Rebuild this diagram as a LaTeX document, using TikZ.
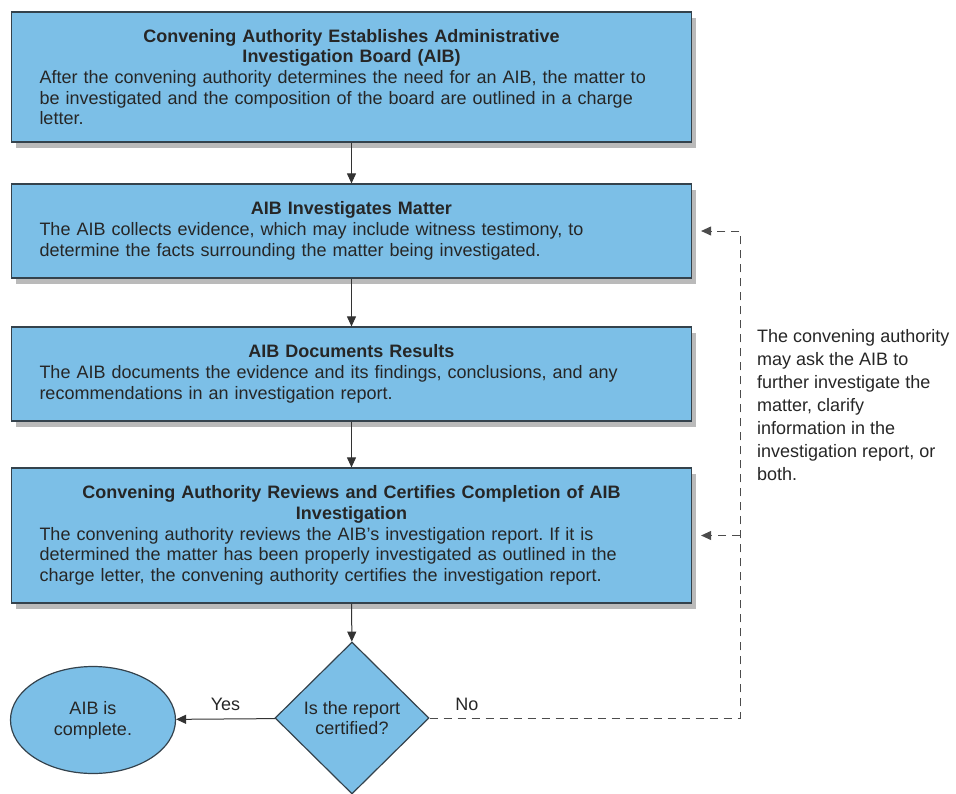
\documentclass[tikz,border=0pt]{standalone}
\usepackage{fontspec}
\setmainfont{Liberation Sans}
\usetikzlibrary{positioning,arrows.meta,shapes.geometric,shadows}
\frenchspacing

\definecolor{stepblue}{RGB}{124,191,231}
\definecolor{edgegray}{RGB}{52,66,76}
\newcommand{\boxtext}[2]{{\centering\bfseries #1\par}#2}

\begin{document}
\begin{tikzpicture}[x=1pt, y=-1pt,
  stepbox/.style={rectangle, draw=edgegray, line width=1.2pt, fill=stepblue,
    minimum width=680pt, text width=624pt, align=left, inner sep=0pt,
    font=\fontsize{18}{20.7}\selectfont, text=black!85,
    drop shadow={shadow xshift=4pt, shadow yshift=-6pt, opacity=0.45, fill=black!60}},
  decide/.style={diamond, draw=edgegray, line width=1.2pt, fill=stepblue,
    minimum width=154pt, minimum height=152pt, inner sep=0pt, align=center,
    font=\fontsize{18}{20.7}\selectfont, text=black!85},
  finish/.style={ellipse, draw=edgegray, line width=1.2pt, fill=stepblue,
    minimum width=165pt, minimum height=107pt, inner sep=0pt, align=center,
    font=\fontsize{18}{20.7}\selectfont, text=black!85},
  flow/.style={line width=1pt, draw=black!80, -{Triangle[length=10pt, width=9pt]}},
  back/.style={flow, draw=black!70, dash pattern=on 8pt off 6pt, shorten >=9pt},
  lbl/.style={font=\fontsize{18}{20.7}\selectfont, text=black!85}
]
  \useasboundingbox (0,0) rectangle (956,793);

  % Steps
  \node[stepbox, minimum height=130pt] (b1) at (351.5,77)
    {\boxtext{Convening Authority Establishes Administrative\\Investigation Board (AIB)}
    {After the convening authority determines the need for an AIB, the matter to\\
     be investigated and the composition of the board are outlined in a charge\\
     letter.}};
  \node[stepbox, minimum height=94pt] (b2) at (351.5,231)
    {\boxtext{AIB Investigates Matter}
    {The AIB collects evidence, which may include witness testimony, to\\
     determine the facts surrounding the matter being investigated.}};
  \node[stepbox, minimum height=94pt] (b3) at (351.5,374)
    {\boxtext{AIB Documents Results}
    {The AIB documents the evidence and its findings, conclusions, and any\\
     recommendations in an investigation report.}};
  \node[stepbox, minimum height=135pt] (b4) at (351.5,535.5)
    {\boxtext{Convening Authority Reviews and Certifies Completion of AIB\\Investigation}
    {The convening authority reviews the AIB's investigation report. If it is\\
     determined the matter has been properly investigated as outlined in the\\
     charge letter, the convening authority certifies the investigation report.}};

  % Decision and end
  \node[decide] (dia) at (352,718) {Is the report\\certified?};
  \node[finish] (done) at (93,720) {AIB is\\complete.};

  \draw[flow] (b1) -- (b2);
  \draw[flow] (b2) -- (b3);
  \draw[flow] (b3) -- (b4);
  \draw[flow] (b4) -- (dia);
  \draw[flow] (dia) -- node[lbl, above=4pt] {Yes} (done);

  % Return loop
  \coordinate (loop) at (740,718);
  \draw[back] (dia.east) -- node[lbl, pos=0.12, above=4pt] {No} (loop) |- (b2.east);
  \draw[back] (loop |- b4.east) -- (b4.east);

  \node[lbl, anchor=north west, inner sep=0pt, align=left,
    font=\fontsize{18}{23}\selectfont] (note) at (757,329)
    {The convening authority\\may ask the AIB to\\further investigate the\\matter, clarify\\information in the\\investigation report, or\\both.};
\end{tikzpicture}
\end{document}
